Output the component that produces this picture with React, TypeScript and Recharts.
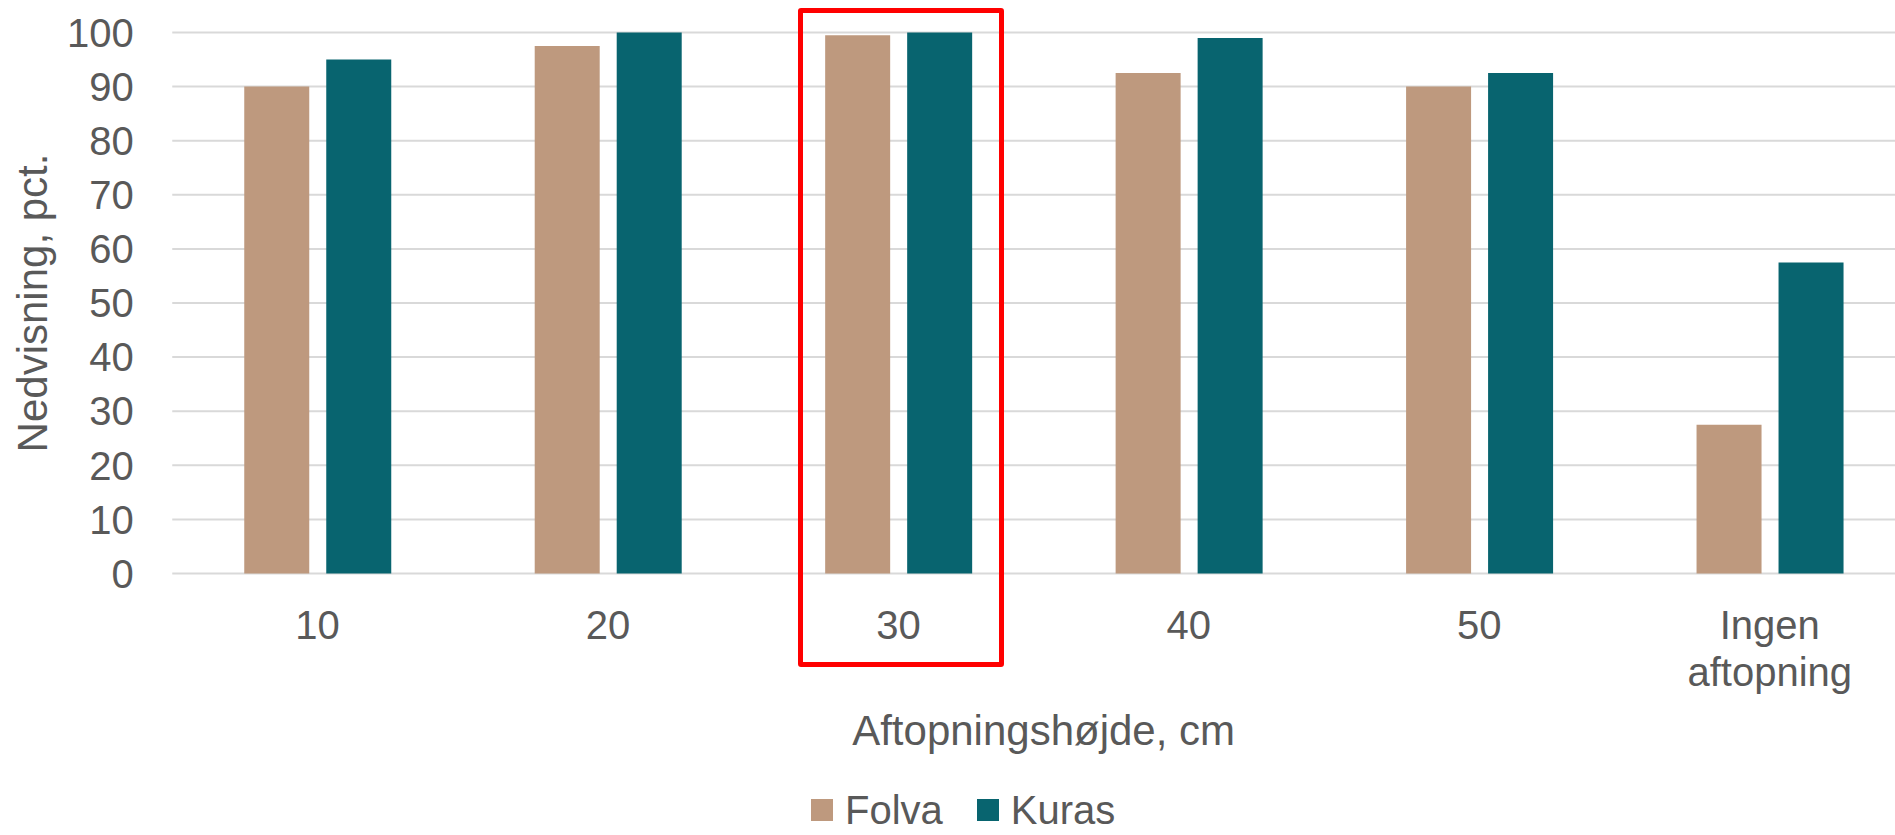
import React from "react";
import { Bar, BarChart, CartesianGrid, Legend, XAxis, YAxis } from "recharts";

const categories = ["10", "20", "30", "40", "50", "Ingen aftopning"];
const folva = [90, 97.5, 99.5, 92.5, 90, 27.5];
const kuras = [95, 100, 100, 99, 92.5, 57.5];
const yTicks = [0, 10, 20, 30, 40, 50, 60, 70, 80, 90, 100];

const data = categories.map((label, i) => ({ label, Folva: folva[i], Kuras: kuras[i] }));

const FONT = '"Liberation Sans", Arial, sans-serif';
const INK = "#595959";
const TAN = "#BE997E";
const TEAL = "#08646F";

function XTick({ x, y, payload }: any) {
  const lines = String(payload.value).split(" ");
  return (
    <text x={x} y={y} textAnchor="middle" fill={INK} fontSize={40} fontFamily={FONT}>
      {lines.map((line, i) => (
        <tspan key={i} x={x} dy={i === 0 ? 28.5 : 47}>
          {line}
        </tspan>
      ))}
    </text>
  );
}

function LegendContent() {
  const items = [
    { name: "Folva", color: TAN },
    { name: "Kuras", color: TEAL },
  ];
  return (
    <div style={{ display: "flex", alignItems: "center", fontFamily: FONT, fontSize: 40, lineHeight: "34px", height: 34, color: INK }}>
      {items.map((it, i) => (
        <div key={it.name} style={{ display: "flex", alignItems: "center", marginRight: i === 0 ? 34 : 0 }}>
          <span style={{ width: 22, height: 22, background: it.color, marginRight: 12, display: "inline-block" }} />
          <span>{it.name}</span>
        </div>
      ))}
    </div>
  );
}

export default function App() {
  return (
    <div style={{ position: "absolute", left: 0, top: 0, width: 1895, height: 835, overflow: "hidden", background: "#fff" }}>
      <BarChart
        width={1915}
        height={835}
        data={data}
        margin={{ top: 32.5, right: 0, bottom: 161.5, left: 0 }}
        barSize={65}
        barGap={17}
      >
        <CartesianGrid vertical={false} stroke="#D9D9D9" strokeWidth={2} />
        <XAxis
          dataKey="label"
          height={100}
          axisLine={false}
          tickLine={false}
          tickSize={0}
          tickMargin={37}
          interval={0}
          tick={<XTick />}
          label={({ viewBox }: any) => (
            <text
              x={viewBox.x + viewBox.width / 2}
              y={745}
              textAnchor="middle"
              fill={INK}
              fontSize={42}
              fontFamily={FONT}
            >
              Aftopningshøjde, cm
            </text>
          )}
        />
        <YAxis
          width={172.25}
          domain={[0, 100]}
          ticks={yTicks}
          axisLine={false}
          tickLine={false}
          tickSize={0}
          tickMargin={38.5}
          tick={{ fill: INK, fontSize: 40, fontFamily: FONT }}
          label={({ viewBox }: any) => {
            const cy = viewBox.y + viewBox.height / 2;
            return (
              <text
                x={47}
                y={cy}
                transform={`rotate(-90 47 ${cy})`}
                textAnchor="middle"
                fill={INK}
                fontSize={42}
                fontFamily={FONT}
              >
                Nedvisning, pct.
              </text>
            );
          }}
        />
        <Legend
          verticalAlign="middle"
          align="center"
          content={<LegendContent />}
          wrapperStyle={{ left: 811, top: 793, width: "auto", height: "auto" }}
        />
        <Bar dataKey="Folva" fill={TAN} isAnimationActive={false} />
        <Bar dataKey="Kuras" fill={TEAL} isAnimationActive={false} />
      </BarChart>
      <div
        style={{
          position: "absolute",
          left: 798,
          top: 8,
          width: 206,
          height: 659,
          boxSizing: "border-box",
          border: "5px solid #FF0000",
          borderRadius: 3,
          pointerEvents: "none",
        }}
      />
    </div>
  );
}
